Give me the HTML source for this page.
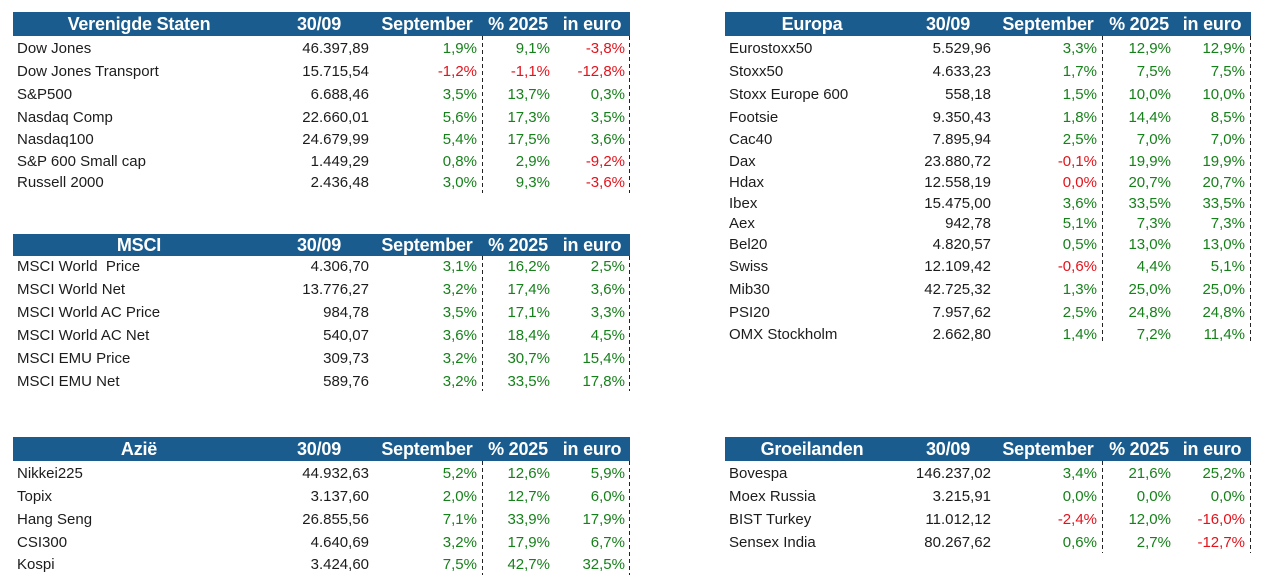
<!DOCTYPE html>
<html><head><meta charset="utf-8">
<style>
html,body{margin:0;padding:0;background:#fff;}
body{width:1283px;height:588px;position:relative;overflow:hidden;font-family:"Liberation Sans",Arial,sans-serif;}
.bar{position:absolute;background:#1a5c8e;}
.h{position:absolute;width:200px;text-align:center;color:#fff;font-weight:bold;font-size:18px;letter-spacing:-0.2px;white-space:pre;}
.row{position:absolute;left:0;width:1283px;height:20px;line-height:20px;font-size:15px;color:#1c1c1c;white-space:pre;margin-top:1px;}
.row span{position:absolute;top:0;}
.L .n{left:17px}.L .a{right:914px}.L .b{right:806px}.L .c{right:733px}.L .d{right:658px}
.R .n{left:729px}.R .a{right:292px}.R .b{right:186px}.R .c{right:112px}.R .d{right:38px}
.g{color:#16801a}.r{color:#e3121b}
.dash{position:absolute;width:1px;background:repeating-linear-gradient(to bottom,#222 0 4px,transparent 4px 7px);}
</style></head><body>

<!-- Verenigde Staten -->
<div class="bar" style="left:13px;top:12px;width:617px;height:24px;"></div>
<div class="h" style="left:39px;top:12px;line-height:24px;">Verenigde Staten</div>
<div class="h" style="left:219px;top:12px;line-height:24px;">30/09</div>
<div class="h" style="left:327px;top:12px;line-height:24px;">September</div>
<div class="h" style="left:418px;top:12px;line-height:24px;">% 2025</div>
<div class="h" style="left:492px;top:12px;line-height:24px;">in euro</div>
<div class="dash" style="left:482px;top:36px;height:157px;"></div>
<div class="dash" style="left:629px;top:36px;height:157px;"></div>
<div class="row L" style="top:38px"><span class="n">Dow Jones</span><span class="a">46.397,89</span><span class="b g">1,9%</span><span class="c g">9,1%</span><span class="d r">-3,8%</span></div>
<div class="row L" style="top:61px"><span class="n">Dow Jones Transport</span><span class="a">15.715,54</span><span class="b r">-1,2%</span><span class="c r">-1,1%</span><span class="d r">-12,8%</span></div>
<div class="row L" style="top:84px"><span class="n">S&amp;P500</span><span class="a">6.688,46</span><span class="b g">3,5%</span><span class="c g">13,7%</span><span class="d g">0,3%</span></div>
<div class="row L" style="top:107px"><span class="n">Nasdaq Comp</span><span class="a">22.660,01</span><span class="b g">5,6%</span><span class="c g">17,3%</span><span class="d g">3,5%</span></div>
<div class="row L" style="top:129px"><span class="n">Nasdaq100</span><span class="a">24.679,99</span><span class="b g">5,4%</span><span class="c g">17,5%</span><span class="d g">3,6%</span></div>
<div class="row L" style="top:151px"><span class="n">S&amp;P 600 Small cap</span><span class="a">1.449,29</span><span class="b g">0,8%</span><span class="c g">2,9%</span><span class="d r">-9,2%</span></div>
<div class="row L" style="top:172px"><span class="n">Russell 2000</span><span class="a">2.436,48</span><span class="b g">3,0%</span><span class="c g">9,3%</span><span class="d r">-3,6%</span></div>

<!-- MSCI -->
<div class="bar" style="left:13px;top:234px;width:617px;height:22px;"></div>
<div class="h" style="left:39px;top:234px;line-height:22px;">MSCI</div>
<div class="h" style="left:219px;top:234px;line-height:22px;">30/09</div>
<div class="h" style="left:327px;top:234px;line-height:22px;">September</div>
<div class="h" style="left:418px;top:234px;line-height:22px;">% 2025</div>
<div class="h" style="left:492px;top:234px;line-height:22px;">in euro</div>
<div class="dash" style="left:482px;top:256px;height:135px;"></div>
<div class="dash" style="left:629px;top:256px;height:135px;"></div>
<div class="row L" style="top:256px"><span class="n">MSCI World  Price</span><span class="a">4.306,70</span><span class="b g">3,1%</span><span class="c g">16,2%</span><span class="d g">2,5%</span></div>
<div class="row L" style="top:279px"><span class="n">MSCI World Net</span><span class="a">13.776,27</span><span class="b g">3,2%</span><span class="c g">17,4%</span><span class="d g">3,6%</span></div>
<div class="row L" style="top:302px"><span class="n">MSCI World AC Price</span><span class="a">984,78</span><span class="b g">3,5%</span><span class="c g">17,1%</span><span class="d g">3,3%</span></div>
<div class="row L" style="top:325px"><span class="n">MSCI World AC Net</span><span class="a">540,07</span><span class="b g">3,6%</span><span class="c g">18,4%</span><span class="d g">4,5%</span></div>
<div class="row L" style="top:348px"><span class="n">MSCI EMU Price</span><span class="a">309,73</span><span class="b g">3,2%</span><span class="c g">30,7%</span><span class="d g">15,4%</span></div>
<div class="row L" style="top:371px"><span class="n">MSCI EMU Net</span><span class="a">589,76</span><span class="b g">3,2%</span><span class="c g">33,5%</span><span class="d g">17,8%</span></div>

<!-- Azië -->
<div class="bar" style="left:13px;top:437px;width:617px;height:24px;"></div>
<div class="h" style="left:39px;top:437px;line-height:24px;">Azië</div>
<div class="h" style="left:219px;top:437px;line-height:24px;">30/09</div>
<div class="h" style="left:327px;top:437px;line-height:24px;">September</div>
<div class="h" style="left:418px;top:437px;line-height:24px;">% 2025</div>
<div class="h" style="left:492px;top:437px;line-height:24px;">in euro</div>
<div class="dash" style="left:482px;top:461px;height:114px;"></div>
<div class="dash" style="left:629px;top:461px;height:114px;"></div>
<div class="row L" style="top:463px"><span class="n">Nikkei225</span><span class="a">44.932,63</span><span class="b g">5,2%</span><span class="c g">12,6%</span><span class="d g">5,9%</span></div>
<div class="row L" style="top:486px"><span class="n">Topix</span><span class="a">3.137,60</span><span class="b g">2,0%</span><span class="c g">12,7%</span><span class="d g">6,0%</span></div>
<div class="row L" style="top:509px"><span class="n">Hang Seng</span><span class="a">26.855,56</span><span class="b g">7,1%</span><span class="c g">33,9%</span><span class="d g">17,9%</span></div>
<div class="row L" style="top:532px"><span class="n">CSI300</span><span class="a">4.640,69</span><span class="b g">3,2%</span><span class="c g">17,9%</span><span class="d g">6,7%</span></div>
<div class="row L" style="top:554px"><span class="n">Kospi</span><span class="a">3.424,60</span><span class="b g">7,5%</span><span class="c g">42,7%</span><span class="d g">32,5%</span></div>

<!-- Europa -->
<div class="bar" style="left:725px;top:12px;width:526px;height:24px;"></div>
<div class="h" style="left:712px;top:12px;line-height:24px;">Europa</div>
<div class="h" style="left:848px;top:12px;line-height:24px;">30/09</div>
<div class="h" style="left:948px;top:12px;line-height:24px;">September</div>
<div class="h" style="left:1039px;top:12px;line-height:24px;">% 2025</div>
<div class="h" style="left:1112px;top:12px;line-height:24px;">in euro</div>
<div class="dash" style="left:1102px;top:36px;height:307px;"></div>
<div class="dash" style="left:1250px;top:36px;height:307px;"></div>
<div class="row R" style="top:38px"><span class="n">Eurostoxx50</span><span class="a">5.529,96</span><span class="b g">3,3%</span><span class="c g">12,9%</span><span class="d g">12,9%</span></div>
<div class="row R" style="top:61px"><span class="n">Stoxx50</span><span class="a">4.633,23</span><span class="b g">1,7%</span><span class="c g">7,5%</span><span class="d g">7,5%</span></div>
<div class="row R" style="top:84px"><span class="n">Stoxx Europe 600</span><span class="a">558,18</span><span class="b g">1,5%</span><span class="c g">10,0%</span><span class="d g">10,0%</span></div>
<div class="row R" style="top:107px"><span class="n">Footsie</span><span class="a">9.350,43</span><span class="b g">1,8%</span><span class="c g">14,4%</span><span class="d g">8,5%</span></div>
<div class="row R" style="top:129px"><span class="n">Cac40</span><span class="a">7.895,94</span><span class="b g">2,5%</span><span class="c g">7,0%</span><span class="d g">7,0%</span></div>
<div class="row R" style="top:151px"><span class="n">Dax</span><span class="a">23.880,72</span><span class="b r">-0,1%</span><span class="c g">19,9%</span><span class="d g">19,9%</span></div>
<div class="row R" style="top:172px"><span class="n">Hdax</span><span class="a">12.558,19</span><span class="b r">0,0%</span><span class="c g">20,7%</span><span class="d g">20,7%</span></div>
<div class="row R" style="top:193px"><span class="n">Ibex</span><span class="a">15.475,00</span><span class="b g">3,6%</span><span class="c g">33,5%</span><span class="d g">33,5%</span></div>
<div class="row R" style="top:213px"><span class="n">Aex</span><span class="a">942,78</span><span class="b g">5,1%</span><span class="c g">7,3%</span><span class="d g">7,3%</span></div>
<div class="row R" style="top:234px"><span class="n">Bel20</span><span class="a">4.820,57</span><span class="b g">0,5%</span><span class="c g">13,0%</span><span class="d g">13,0%</span></div>
<div class="row R" style="top:256px"><span class="n">Swiss</span><span class="a">12.109,42</span><span class="b r">-0,6%</span><span class="c g">4,4%</span><span class="d g">5,1%</span></div>
<div class="row R" style="top:279px"><span class="n">Mib30</span><span class="a">42.725,32</span><span class="b g">1,3%</span><span class="c g">25,0%</span><span class="d g">25,0%</span></div>
<div class="row R" style="top:302px"><span class="n">PSI20</span><span class="a">7.957,62</span><span class="b g">2,5%</span><span class="c g">24,8%</span><span class="d g">24,8%</span></div>
<div class="row R" style="top:324px"><span class="n">OMX Stockholm</span><span class="a">2.662,80</span><span class="b g">1,4%</span><span class="c g">7,2%</span><span class="d g">11,4%</span></div>

<!-- Groeilanden -->
<div class="bar" style="left:725px;top:437px;width:526px;height:24px;"></div>
<div class="h" style="left:712px;top:437px;line-height:24px;">Groeilanden</div>
<div class="h" style="left:848px;top:437px;line-height:24px;">30/09</div>
<div class="h" style="left:948px;top:437px;line-height:24px;">September</div>
<div class="h" style="left:1039px;top:437px;line-height:24px;">% 2025</div>
<div class="h" style="left:1112px;top:437px;line-height:24px;">in euro</div>
<div class="dash" style="left:1102px;top:461px;height:92px;"></div>
<div class="dash" style="left:1250px;top:461px;height:92px;"></div>
<div class="row R" style="top:463px"><span class="n">Bovespa</span><span class="a">146.237,02</span><span class="b g">3,4%</span><span class="c g">21,6%</span><span class="d g">25,2%</span></div>
<div class="row R" style="top:486px"><span class="n">Moex Russia</span><span class="a">3.215,91</span><span class="b g">0,0%</span><span class="c g">0,0%</span><span class="d g">0,0%</span></div>
<div class="row R" style="top:509px"><span class="n">BIST Turkey</span><span class="a">11.012,12</span><span class="b r">-2,4%</span><span class="c g">12,0%</span><span class="d r">-16,0%</span></div>
<div class="row R" style="top:532px"><span class="n">Sensex India</span><span class="a">80.267,62</span><span class="b g">0,6%</span><span class="c g">2,7%</span><span class="d r">-12,7%</span></div>

</body></html>
